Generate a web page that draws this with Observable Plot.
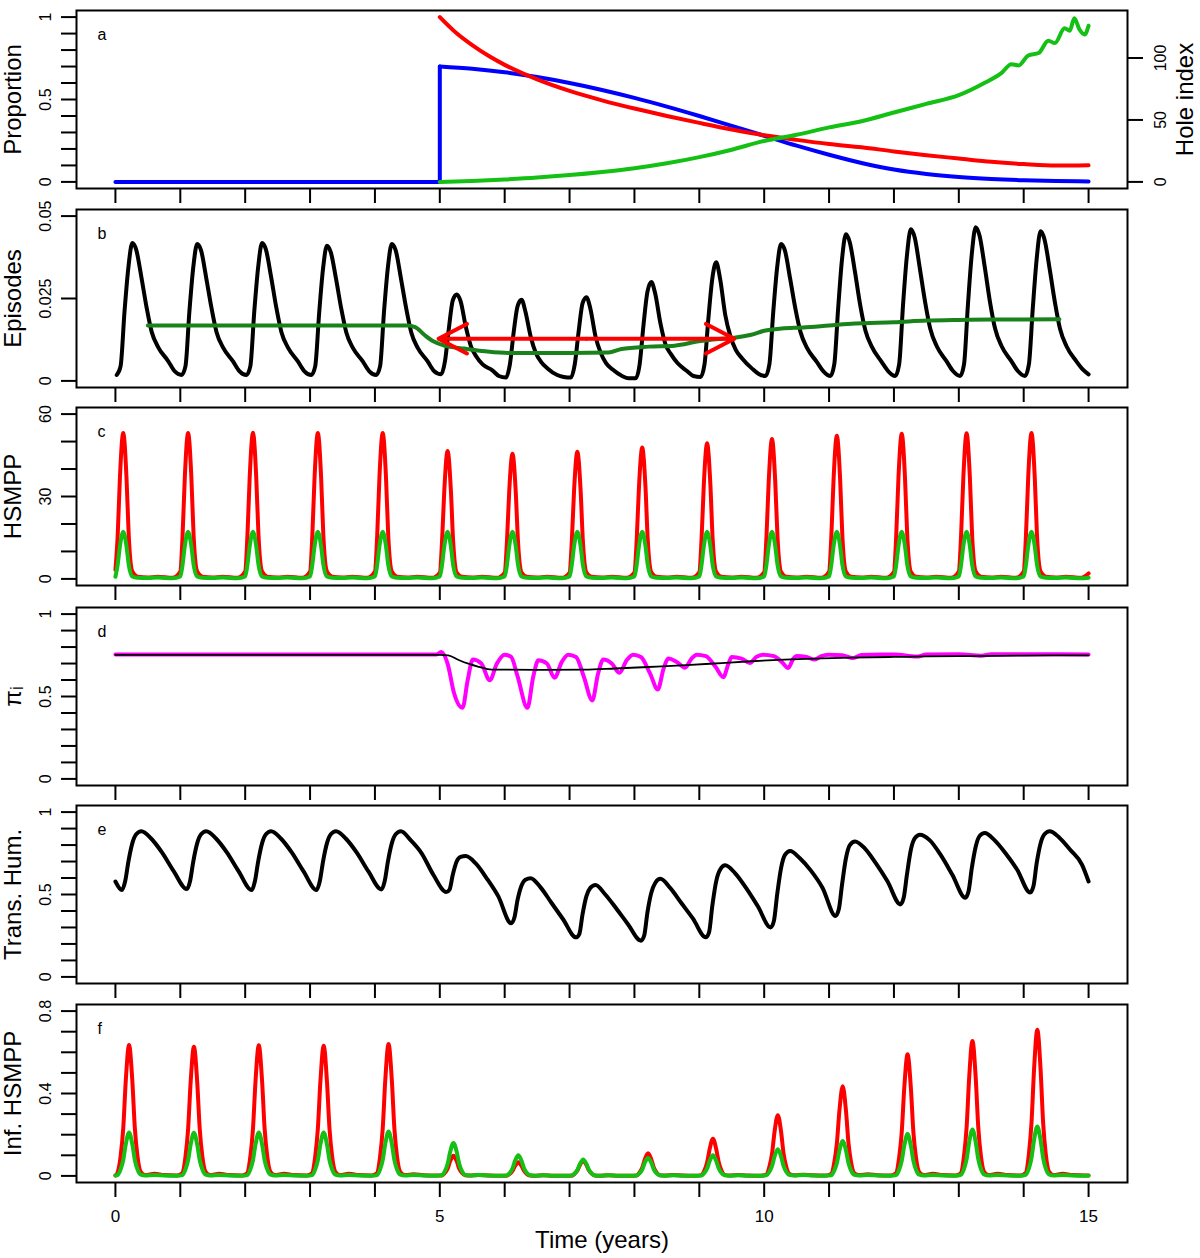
<!DOCTYPE html>
<html><head><meta charset="utf-8">
<script src="https://cdn.jsdelivr.net/npm/d3@7"></script>
<script src="https://cdn.jsdelivr.net/npm/@observablehq/plot@0.6"></script>
<style>
body{margin:0;background:#fff;}
#chart svg{display:block;}
</style></head><body><div id="chart"></div>
<script>
// ================= DATA =================
const xTicks = [0,1,2,3,4,5,6,7,8,9,10,11,12,13,14,15];
const xTickLabels = [0,5,10,15];
const cycleYears = [0,1,2,3,4,5,6,7,8,9,10,11,12,13,14];

// ---- panel a ----
const aBlueFlat = [[0,0],[5,0],[5,0.70]];
const aBlue = [[5,0.70],[5.5,0.686],[6,0.665],[6.5,0.636],[7,0.600],[7.5,0.558],[8,0.510],[8.5,0.457],[9,0.400],[9.5,0.340],[10,0.280],[10.5,0.220],[11,0.165],[11.5,0.115],[12,0.075],[12.5,0.048],[13,0.030],[13.5,0.018],[14,0.010],[14.5,0.005],[15,0.003]];
const aRed = [[5,1.0],[5.25,0.905],[5.5,0.83],[5.75,0.765],[6,0.71],[6.5,0.622],[7,0.552],[7.5,0.495],[8,0.445],[8.5,0.40],[9,0.358],[9.5,0.318],[10,0.283],[10.5,0.255],[11,0.23],[11.5,0.21],[12,0.185],[12.5,0.162],[13,0.142],[13.5,0.122],[14,0.108],[14.5,0.099],[15,0.101]];
const aHole = [[5,0],[5.5,0.8],[6,2],[6.5,3.5],[7,5.5],[7.5,8],[8,11],[8.5,15],[9,20],[9.5,26],[10,33],[10.5,38],[11,44],[11.5,49],[12,56],[12.5,63],[13,70],[13.4,80],[13.66,88],[13.81,95],[13.92,94],[14.07,102],[14.23,104],[14.38,114],[14.48,112],[14.63,124],[14.71,122],[14.78,132],[14.86,123],[14.94,119],[15.0,126]];
const holeAtTop = 133;          // hole index equal to proportion 1
const holeTicks = [0,50,100];

// ---- panel b ----
const bOffsets = [0.02,0.08,0.14,0.20,0.26,0.32,0.40,0.48,0.56,0.66,0.81,0.91];
const bEpisodes = [
 [0.0018,0.0045,0.021,0.0345,0.0418,0.0398,0.0315,0.0223,0.0148,0.0102,0.0061,0.003],
 [0.0018,0.0045,0.021,0.0345,0.0415,0.0396,0.0312,0.0222,0.0147,0.0101,0.006,0.003],
 [0.0018,0.0045,0.021,0.0345,0.0418,0.0398,0.0315,0.0222,0.0147,0.0101,0.006,0.003],
 [0.0018,0.0045,0.0205,0.034,0.041,0.039,0.031,0.022,0.0146,0.010,0.006,0.003],
 [0.0018,0.0045,0.021,0.0345,0.0415,0.0396,0.0312,0.0222,0.0147,0.010,0.006,0.003],
 [0.002,0.006,0.016,0.0244,0.0262,0.0242,0.0165,0.0105,0.0075,0.005,0.0032,0.0015],
 [0.001,0.005,0.015,0.0228,0.0246,0.021,0.0135,0.0085,0.0058,0.0038,0.0018,0.0012],
 [0.001,0.005,0.015,0.0235,0.0254,0.022,0.0135,0.0085,0.0055,0.0035,0.0015,0.0008],
 [0.0008,0.005,0.017,0.027,0.030,0.0265,0.0175,0.011,0.0082,0.0055,0.003,0.0015],
 [0.0012,0.005,0.019,0.031,0.036,0.031,0.020,0.0135,0.0095,0.0068,0.0038,0.0022],
 [0.0015,0.005,0.021,0.0345,0.0415,0.0395,0.031,0.022,0.0148,0.010,0.0058,0.003],
 [0.0015,0.005,0.022,0.037,0.0445,0.042,0.033,0.023,0.0153,0.0103,0.0058,0.003],
 [0.0015,0.005,0.023,0.038,0.046,0.0435,0.034,0.024,0.0158,0.0105,0.006,0.003],
 [0.0015,0.005,0.023,0.0385,0.0466,0.044,0.0345,0.024,0.0158,0.0105,0.006,0.003],
 [0.0015,0.005,0.022,0.037,0.0454,0.043,0.034,0.024,0.0158,0.0105,0.006,0.0035]
];
const bEpisodesEnd = [15.0,0.002];
const bTrend = [[0.5,0.0168],[4.5,0.0168],[4.62,0.0163],[4.76,0.0140],[4.9,0.0120],[5.07,0.0107],[5.38,0.0098],[5.7,0.0090],[6.06,0.0085],[7.0,0.0085],[7.6,0.0086],[7.8,0.0097],[8.22,0.0104],[8.62,0.0107],[8.99,0.0120],[9.3,0.0127],[9.54,0.0131],[9.8,0.0140],[10.0,0.0152],[10.27,0.0159],[10.6,0.0162],[11.0,0.0168],[11.4,0.0174],[12.0,0.0178],[12.5,0.0183],[13.0,0.0185],[13.5,0.0186],[14.0,0.0186],[14.55,0.0187]];
const bArrowFrom = 4.98, bArrowTo = 9.54, bArrowLevel = 0.0128;

// ---- panel c ----
const cOffsets = [0.00,0.035,0.07,0.12,0.17,0.205,0.26,0.34,0.50,0.65,0.88];
const cRed = [
 [3.3,15.9,37.2,53.1,37.2,15.9,2.7,0.8,0.5,0.8,0.4],
 [2.7,15.9,37.2,53.1,37.2,15.9,2.7,0.8,0.5,0.8,0.4],
 [2.7,16.0,37.2,53.2,37.2,16.0,2.7,0.8,0.5,0.8,0.4],
 [2.7,15.9,37.2,53.1,37.2,15.9,2.7,0.8,0.5,0.8,0.4],
 [2.7,15.9,37.2,53.1,37.2,15.9,2.7,0.8,0.5,0.8,0.4],
 [2.3,14.0,32.6,46.6,32.6,14.0,2.3,0.8,0.5,0.8,0.4],
 [2.3,13.7,31.9,45.6,31.9,13.7,2.3,0.8,0.5,0.8,0.4],
 [2.3,13.9,32.4,46.3,32.4,13.9,2.3,0.8,0.5,0.8,0.4],
 [2.4,14.3,33.5,47.8,33.5,14.3,2.4,0.8,0.5,0.8,0.4],
 [2.5,14.8,34.6,49.4,34.6,14.8,2.5,0.8,0.5,0.8,0.4],
 [2.5,15.3,35.6,50.9,35.6,15.3,2.5,0.8,0.5,0.8,0.4],
 [2.6,15.6,36.5,52.1,36.5,15.6,2.6,0.8,0.5,0.8,0.4],
 [2.6,15.8,37.0,52.8,37.0,15.8,2.6,0.8,0.5,0.8,0.4],
 [2.7,15.9,37.1,53.0,37.1,15.9,2.7,0.8,0.5,0.8,0.4],
 [2.7,15.9,37.2,53.1,37.2,15.9,2.7,0.8,0.5,0.8,0.4]
];
const cRedEnd = [15.0,2.0];
const cGreen = [
 [0.8,5.2,12.0,17.2,12.0,5.2,0.9,0.4,0.3,0.5,0.2],
 [0.9,5.2,12.0,17.2,12.0,5.2,0.9,0.4,0.3,0.5,0.2],
 [0.9,5.2,12.0,17.2,12.0,5.2,0.9,0.4,0.3,0.5,0.2],
 [0.9,5.2,12.0,17.2,12.0,5.2,0.9,0.4,0.3,0.5,0.2],
 [0.9,5.2,12.0,17.2,12.0,5.2,0.9,0.4,0.3,0.5,0.2],
 [0.9,5.2,12.0,17.2,12.0,5.2,0.9,0.4,0.3,0.5,0.2],
 [0.9,5.2,12.0,17.2,12.0,5.2,0.9,0.4,0.3,0.5,0.2],
 [0.9,5.2,12.0,17.2,12.0,5.2,0.9,0.4,0.3,0.5,0.2],
 [0.9,5.2,12.0,17.2,12.0,5.2,0.9,0.4,0.3,0.5,0.2],
 [0.9,5.2,12.0,17.2,12.0,5.2,0.9,0.4,0.3,0.5,0.2],
 [0.9,5.2,12.0,17.2,12.0,5.2,0.9,0.4,0.3,0.5,0.2],
 [0.9,5.2,12.0,17.2,12.0,5.2,0.9,0.4,0.3,0.5,0.2],
 [0.9,5.2,12.0,17.2,12.0,5.2,0.9,0.4,0.3,0.5,0.2],
 [0.9,5.2,12.0,17.2,12.0,5.2,0.9,0.4,0.3,0.5,0.2],
 [0.9,5.2,12.0,17.2,12.0,5.2,0.9,0.4,0.3,0.5,0.2]
];
const cGreenEnd = [15.0,0.4];

// ---- panel d ----
const dPi = [[0,0.755],[4.95,0.755],[5.02,0.77],[5.12,0.70],[5.22,0.52],[5.35,0.431],[5.43,0.6],[5.51,0.724],[5.64,0.70],[5.77,0.598],[5.88,0.70],[6.0,0.754],[6.1,0.74],[6.2,0.62],[6.35,0.431],[6.44,0.62],[6.52,0.72],[6.65,0.70],[6.77,0.614],[6.88,0.71],[6.98,0.754],[7.1,0.74],[7.22,0.62],[7.35,0.476],[7.44,0.64],[7.52,0.724],[7.65,0.70],[7.77,0.644],[7.88,0.72],[7.98,0.754],[8.1,0.74],[8.24,0.64],[8.36,0.543],[8.45,0.67],[8.52,0.73],[8.65,0.71],[8.78,0.675],[8.88,0.73],[8.96,0.754],[9.1,0.745],[9.25,0.68],[9.37,0.618],[9.45,0.70],[9.5,0.74],[9.65,0.73],[9.78,0.703],[9.88,0.74],[9.98,0.754],[10.15,0.745],[10.27,0.71],[10.37,0.673],[10.45,0.73],[10.5,0.745],[10.65,0.74],[10.78,0.724],[10.88,0.745],[10.99,0.754],[11.2,0.75],[11.37,0.733],[11.5,0.752],[11.8,0.755],[12.0,0.755],[12.35,0.742],[12.5,0.755],[13.0,0.756],[13.35,0.748],[13.5,0.756],[14.0,0.756],[15.0,0.755]];
const dMean = [[0,0.753],[5.0,0.753],[5.13,0.75],[5.3,0.72],[5.44,0.699],[5.6,0.68],[5.8,0.663],[6.5,0.662],[7.23,0.663],[7.7,0.67],[8.21,0.679],[8.8,0.69],[9.34,0.703],[9.8,0.714],[10.31,0.724],[10.8,0.73],[11.35,0.736],[12,0.74],[12.5,0.743],[13,0.745],[14,0.748],[15,0.75]];

// ---- panel e ----
const eOffsets = [0.10,0.15,0.20,0.26,0.32,0.40,0.55,0.72,0.90];
const eTrans = [
 [0.527,0.58,0.70,0.81,0.865,0.884,0.84,0.754,0.64],
 [0.533,0.58,0.70,0.81,0.865,0.884,0.84,0.754,0.64],
 [0.527,0.58,0.70,0.81,0.865,0.884,0.84,0.754,0.64],
 [0.527,0.58,0.70,0.81,0.865,0.884,0.84,0.754,0.64],
 [0.531,0.58,0.70,0.81,0.865,0.884,0.83,0.75,0.62],
 [0.515,0.53,0.62,0.70,0.728,0.733,0.69,0.60,0.49],
 [0.325,0.36,0.47,0.555,0.59,0.599,0.545,0.45,0.35],
 [0.24,0.26,0.38,0.49,0.54,0.558,0.50,0.415,0.32],
 [0.22,0.25,0.39,0.51,0.57,0.595,0.54,0.45,0.355],
 [0.24,0.27,0.43,0.58,0.65,0.677,0.63,0.54,0.43],
 [0.30,0.34,0.50,0.66,0.74,0.764,0.72,0.645,0.54],
 [0.37,0.41,0.56,0.72,0.80,0.822,0.78,0.69,0.58],
 [0.44,0.48,0.62,0.77,0.84,0.863,0.83,0.74,0.62],
 [0.48,0.52,0.66,0.79,0.855,0.873,0.83,0.75,0.65],
 [0.512,0.55,0.69,0.81,0.865,0.884,0.845,0.77,0.68]
];
const eStart = [0,0.579], eEnd = [15.0,0.579];

// ---- panel f ----
const fOffsets = [0.03,0.08,0.12,0.16,0.21,0.26,0.30,0.34,0.39,0.46,0.60,0.75,0.95];
const fRed = [
 [.013,.095,.229,.464,.635,.464,.229,.095,.019,.004,.010,.004,.002],
 [.013,.094,.226,.458,.627,.458,.226,.094,.019,.004,.010,.004,.002],
 [.013,.095,.228,.463,.634,.463,.228,.095,.019,.004,.010,.004,.002],
 [.013,.095,.228,.461,.632,.461,.228,.095,.019,.004,.010,.004,.002],
 [.013,.096,.230,.467,.640,.467,.230,.096,.019,.004,.008,.003,.002],
 [.002,.015,.035,.072,.098,.072,.035,.015,.003,.002,.004,.002,.001],
 [.001,.010,.024,.048,.066,.048,.024,.010,.002,.001,.003,.001,.001],
 [.001,.011,.026,.053,.072,.053,.026,.011,.002,.001,.003,.001,.001],
 [.002,.017,.040,.080,.110,.080,.040,.017,.003,.002,.004,.002,.001],
 [.004,.027,.065,.131,.180,.131,.065,.027,.005,.002,.005,.002,.001],
 [.006,.044,.106,.215,.295,.215,.106,.044,.009,.003,.006,.003,.002],
 [.009,.065,.157,.318,.435,.318,.157,.065,.013,.004,.008,.003,.002],
 [.012,.089,.212,.431,.590,.431,.212,.089,.018,.004,.010,.004,.002],
 [.013,.098,.236,.478,.655,.478,.236,.098,.020,.004,.010,.004,.002],
 [.014,.107,.256,.518,.710,.518,.256,.107,.021,.004,.010,.004,.002]
];
const fGreen = [
 [.004,.032,.076,.154,.211,.154,.076,.032,.006,.002,.004,.002,.001],
 [.004,.032,.076,.153,.210,.153,.076,.032,.006,.002,.004,.002,.001],
 [.004,.032,.076,.154,.211,.154,.076,.032,.006,.002,.004,.002,.001],
 [.004,.032,.076,.154,.211,.154,.076,.032,.006,.002,.004,.002,.001],
 [.004,.032,.077,.157,.215,.157,.077,.032,.006,.002,.004,.002,.001],
 [.003,.024,.058,.117,.160,.117,.058,.024,.005,.002,.004,.002,.001],
 [.002,.015,.036,.073,.100,.073,.036,.015,.003,.001,.003,.001,.001],
 [.002,.012,.029,.058,.080,.058,.029,.012,.002,.001,.003,.001,.001],
 [.002,.013,.031,.064,.087,.064,.031,.013,.003,.001,.003,.001,.001],
 [.002,.015,.036,.073,.100,.073,.036,.015,.003,.001,.003,.001,.001],
 [.003,.020,.047,.095,.130,.095,.047,.020,.004,.002,.004,.002,.001],
 [.003,.026,.061,.124,.170,.124,.061,.026,.005,.002,.004,.002,.001],
 [.004,.030,.073,.148,.203,.148,.073,.030,.006,.002,.004,.002,.001],
 [.005,.034,.081,.164,.225,.164,.081,.034,.007,.002,.004,.002,.001],
 [.005,.036,.086,.175,.240,.175,.086,.036,.007,.002,.004,.002,.001]
];
const fStart = [0,0.002], fEnd = [15.0,0.002];

// ---- axis ticks and labels ----
const aMinor = [0,0.1,0.2,0.3,0.4,0.5,0.6,0.7,0.8,0.9,1];
const aMajor = [0,0.5,1], aMajorLab = ["0","0.5","1"];
const bMinor = [0,0.025,0.05];
const bMajor = [0,0.025,0.05], bMajorLab = ["0","0.025","0.05"];
const cMinor = [0,10,20,30,40,50,60];
const cMajor = [0,30,60], cMajorLab = ["0","30","60"];
const dMinor = aMinor, dMajor = aMajor, dMajorLab = aMajorLab;
const eMinor = aMinor, eMajor = aMajor, eMajorLab = aMajorLab;
const fMinor = [0,0.1,0.2,0.3,0.4,0.5,0.6,0.7,0.8];
const fMajor = [0,0.4,0.8], fMajorLab = ["0","0.4","0.8"];

// ================= DRAWING =================
const FONT = "'Liberation Sans', Arial, Helvetica, sans-serif";
const RED = "#FF0000", BLUE = "#0000FF", GREEN = "#13C013", DKGREEN = "#1A821A", MAGENTA = "#FF00FF";
const TICKFS = 16, LETTERFS = 16, LW = 4;

function cycles(offsets, rows, head, tail) {
  const pts = head ? [head] : [];
  rows.forEach((row, k) => row.forEach((v, i) => pts.push([cycleYears[k] + offsets[i], v])));
  if (tail) pts.push(tail);
  return pts;
}
function pad(lo, hi) { const r = hi - lo; return [lo - 0.04 * r, hi + 0.04 * r]; }
function line(data, stroke, w = LW, curve = "monotone-x") {
  return Plot.line(data, {x: d => d[0], y: d => d[1], stroke, strokeWidth: w, curve, strokeLinecap: "round", strokeLinejoin: "round"});
}

function panel({h, mb, ydom, minor, major, majorLab, title, letter, marks, extra = [], bottomLabels = false}) {
  const m = [
    ...marks,
    Plot.frame({stroke: "black", strokeWidth: 2}),
    Plot.axisY(minor, {tickSize: 15, strokeWidth: 2, fill: "none", label: null}),
    Plot.text(major.map((v, i) => ({v, s: majorLab[i]})), {frameAnchor: "left", y: "v", text: "s", rotate: -90, dx: -31, textAnchor: "middle", lineAnchor: "middle", fontSize: TICKFS}),
    Plot.axisX(xTicks, {tickSize: 15, strokeWidth: 2, fill: "none", label: null}),
    Plot.text([title], {frameAnchor: "left", text: d => d, dx: -63, rotate: -90, fontSize: 24, textAnchor: "middle", lineAnchor: "middle"}),
    Plot.text([letter], {frameAnchor: "top-left", text: d => d, dx: 21, dy: 24, fontSize: LETTERFS, textAnchor: "start", lineAnchor: "middle"}),
    ...extra
  ];
  if (bottomLabels) {
    m.push(Plot.text(xTickLabels, {x: d => d, text: d => String(d), frameAnchor: "bottom", dy: 34, fontSize: 17, lineAnchor: "middle"}));
    m.push(Plot.text(["Time (years)"], {text: d => d, frameAnchor: "bottom", dy: 58, fontSize: 24, lineAnchor: "middle"}));
  }
  return Plot.plot({
    width: 1200, height: h, marginLeft: 76, marginRight: 73, marginTop: 10, marginBottom: mb,
    x: {domain: [-0.6, 15.6]}, y: {domain: ydom},
    style: {fontFamily: FONT, background: "white", overflow: "visible", color: "black"},
    marks: m
  });
}

const chart = document.getElementById("chart");

// a
chart.append(panel({
  h: 199, mb: 11, ydom: pad(0, 1), minor: aMinor, major: aMajor, majorLab: aMajorLab,
  title: "Proportion", letter: "a",
  marks: [
    line(aBlueFlat, BLUE, LW, "linear"),
    line(aBlue, BLUE),
    line(aRed, RED),
    line(aHole.map(d => [d[0], d[1] / holeAtTop]), GREEN)
  ],
  extra: [
    Plot.axisY(holeTicks.map(h => h / holeAtTop), {anchor: "right", tickSize: 15, strokeWidth: 2, fill: "none", label: null}),
    Plot.text(holeTicks.map(h => ({v: h / holeAtTop, s: String(h)})), {frameAnchor: "right", y: "v", text: "s", rotate: -90, dx: 33, textAnchor: "middle", lineAnchor: "middle", fontSize: TICKFS}),
    Plot.text(["Hole index"], {frameAnchor: "right", text: d => d, dx: 58, rotate: -90, fontSize: 24, textAnchor: "middle", lineAnchor: "middle"})
  ]
}));

// b
const bMid = (bArrowFrom + bArrowTo) / 2;
chart.append(panel({
  h: 198, mb: 10, ydom: pad(0, 0.05), minor: bMinor, major: bMajor, majorLab: bMajorLab,
  title: "Episodes", letter: "b",
  marks: [
    line(cycles(bOffsets, bEpisodes, null, bEpisodesEnd), "black"),
    line(bTrend, DKGREEN),
    Plot.arrow([bArrowFrom, bArrowTo], {x1: () => bMid, y1: () => bArrowLevel, x2: d => d, y2: () => bArrowLevel, stroke: RED, strokeWidth: LW, headLength: 12, headAngle: 55})
  ]
}));

// c
chart.append(panel({
  h: 200, mb: 12, ydom: pad(0, 60), minor: cMinor, major: cMajor, majorLab: cMajorLab,
  title: "HSMPP", letter: "c",
  marks: [
    line(cycles(cOffsets, cRed, null, cRedEnd), RED),
    line(cycles(cOffsets, cGreen, null, cGreenEnd), GREEN)
  ]
}));

// d
chart.append(panel({
  h: 198, mb: 10, ydom: pad(0, 1), minor: dMinor, major: dMajor, majorLab: dMajorLab,
  title: "\u03c0\u1d62", letter: "d",
  marks: [
    line(dPi, MAGENTA, LW),
    line(dMean, "black", 1.8)
  ]
}));

// e
chart.append(panel({
  h: 199, mb: 11, ydom: pad(0, 1), minor: eMinor, major: eMajor, majorLab: eMajorLab,
  title: "Trans. Hum.", letter: "e",
  marks: [
    line(cycles(eOffsets, eTrans, eStart, eEnd), "black")
  ]
}));

// f
chart.append(panel({
  h: 264, mb: 76, ydom: pad(0, 0.8), minor: fMinor, major: fMajor, majorLab: fMajorLab,
  title: "Inf. HSMPP", letter: "f", bottomLabels: true,
  marks: [
    line(cycles(fOffsets, fRed, fStart, fEnd), RED),
    line(cycles(fOffsets, fGreen, fStart, fEnd), GREEN)
  ]
}));
</script></body></html>
